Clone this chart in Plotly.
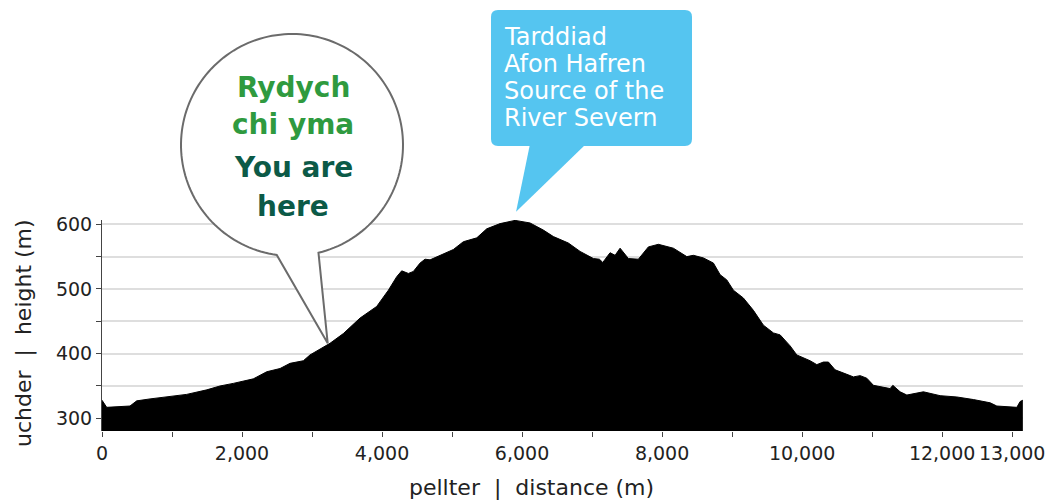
import numpy as np
import plotly.graph_objects as go

# ---------------- data ----------------
distance_m = [0, 67, 400, 496, 686, 924, 1210, 1496, 1686, 1876, 2161, 2353, 2543, 2686,
              2876, 2971, 3114, 3257, 3447, 3686, 3924, 4090, 4210, 4281, 4376, 4447, 4543,
              4614, 4686, 4829, 5019, 5161, 5353, 5496, 5686, 5900, 6114, 6304, 6447, 6661,
              6829, 7019, 7104, 7153, 7257, 7329, 7400, 7519, 7661, 7804, 7947, 8161, 8353,
              8447, 8590, 8733, 8829, 8924, 9019, 9161, 9304, 9447, 9590, 9686, 9829, 9924,
              10019, 10114, 10210, 10304, 10376, 10471, 10639, 10733, 10829, 10924, 11019,
              11161, 11257, 11296, 11400, 11496, 11733, 11971, 12210, 12447, 12686, 12781,
              13067, 13114, 13153]
elevation_m = [328, 317, 319, 327, 330, 333, 337, 344, 350, 354, 361, 372, 377, 385,
               389, 398, 407, 416, 431, 455, 473, 498, 519, 528, 524, 527, 540,
               546, 545, 552, 561, 573, 579, 593, 601, 606, 602, 591, 581, 571,
               558, 547, 546, 541, 556, 552, 563, 547, 546, 565, 569, 563, 550,
               552, 548, 540, 522, 514, 498, 486, 467, 444, 432, 429, 412, 398,
               394, 389, 383, 387, 387, 375, 368, 364, 366, 362, 351,
               348, 346, 351, 341, 336, 341, 335, 333, 329, 324, 319,
               317, 326, 328]

x_tick_values = list(range(0, 13001, 1000))
x_tick_labels = ["0", "", "2,000", "", "4,000", "", "6,000", "", "8,000", "",
                 "10,000", "", "12,000", "13,000"]
y_tick_values = [300, 350, 400, 450, 500, 550, 600]
y_tick_labels = ["300", "", "400", "", "500", "", "600"]

x_range = [0, 13155]
y_range = [280.4, 606.6]

you_are_here = (3224, 416)          # distance, height of the "you are here" point
bubble_lines_cy = ["Rydych", "chi yma"]
bubble_lines_en = ["You are", "here"]
source_lines = ["Tarddiad", "Afon Hafren", "Source of the", "River Severn"]

x_title = "pellter\u00a0\u00a0|\u00a0\u00a0distance (m)"
y_title = "uchder\u00a0\u00a0|\u00a0\u00a0height (m)"

# ---------------- layout geometry ----------------
FW, FH = 1048, 500
ML, MR, MT, MB = 102, 25, 220, 69
PW, PH = FW - ML - MR, FH - MT - MB

def fx(xp):
    return (xp - ML) / PW

def fy(yp):
    return (FH - MB - yp) / PH

def data_to_px(d, h):
    xp = ML + (d - x_range[0]) / (x_range[1] - x_range[0]) * PW
    yp = FH - MB - (h - y_range[0]) / (y_range[1] - y_range[0]) * PH
    return xp, yp

def path_from_px(points, close=True):
    s = "M " + " L ".join(f"{fx(x):.5f},{fy(y):.5f}" for x, y in points)
    return s + (" Z" if close else "")

fig = go.Figure()
fig.add_trace(go.Scatter(
    x=distance_m, y=elevation_m, mode="lines",
    line=dict(color="black", width=1),
    fill="tozeroy", fillcolor="black", hoverinfo="skip", showlegend=False,
))

shapes = []

# ---- "you are here" speech bubble (circle + tail) ----
cx, cy, r = 292, 145, 111
tip_x, tip_y = data_to_px(*you_are_here)
a_start = np.deg2rad(76.2)
a_end = np.deg2rad(97.9 - 360)
angles = np.linspace(a_start, a_end, 160)
pts = [(cx + r * np.cos(a), cy + r * np.sin(a)) for a in angles]
pts.append((tip_x, tip_y))
shapes.append(dict(type="path", xref="paper", yref="paper",
                   path=path_from_px(pts), fillcolor="white",
                   line=dict(color="#6b6b6b", width=2), layer="above"))

# ---- blue callout for the source of the Severn ----
BLUE = "#55c5f0"
bx0, bx1, by0, by1, rad = 491, 692, 10, 146, 7
def P(x, y):
    return f"{fx(x):.5f},{fy(y):.5f}"
rect_path = (f"M {P(bx0 + rad, by0)} L {P(bx1 - rad, by0)} Q {P(bx1, by0)} {P(bx1, by0 + rad)} "
             f"L {P(bx1, by1 - rad)} Q {P(bx1, by1)} {P(bx1 - rad, by1)} "
             f"L {P(bx0 + rad, by1)} Q {P(bx0, by1)} {P(bx0, by1 - rad)} "
             f"L {P(bx0, by0 + rad)} Q {P(bx0, by0)} {P(bx0 + rad, by0)} Z")
shapes.append(dict(type="path", xref="paper", yref="paper", path=rect_path,
                   fillcolor=BLUE, line=dict(width=0), layer="above"))
summit_i = int(np.argmax(elevation_m))
sx, _ = data_to_px(distance_m[summit_i], elevation_m[summit_i])
tail = [(530, by1 - 2), (586, by1 - 2), (sx + 1, 211.7)]
shapes.append(dict(type="path", xref="paper", yref="paper", path=path_from_px(tail),
                   fillcolor=BLUE, line=dict(width=0), layer="above"))

annotations = []
GREEN = "#2f9a3f"
DARK_GREEN = "#0c5a47"
for i, t in enumerate(bubble_lines_cy + bubble_lines_en):
    col = GREEN if i < 2 else DARK_GREEN
    ycen = [85, 123, 166, 205][i]
    annotations.append(dict(text=f"<b>{t}</b>", x=fx(293), y=fy(ycen + 2), xref="paper", yref="paper",
                            xanchor="center", yanchor="middle", showarrow=False,
                            font=dict(family="DejaVu Sans", size=28, color=col)))
for i, t in enumerate(source_lines):
    ycen = 35 + i * 27
    annotations.append(dict(text=t, x=fx(502), y=fy(ycen + 2), xref="paper", yref="paper",
                            xanchor="left", yanchor="middle", showarrow=False,
                            font=dict(family="DejaVu Sans", size=24, color="white")))

annotations.append(dict(text=x_title, x=fx(531), y=fy(488), xref="paper", yref="paper",
                        xanchor="center", yanchor="middle", showarrow=False,
                        font=dict(family="DejaVu Sans", size=22, color="#222")))
annotations.append(dict(text=y_title, x=fx(24), y=fy(333), xref="paper", yref="paper",
                        xanchor="center", yanchor="middle", showarrow=False, textangle=-90,
                        font=dict(family="DejaVu Sans", size=22, color="#222")))

fig.update_layout(
    width=FW, height=FH,
    margin=dict(l=ML, r=MR, t=MT, b=MB, pad=0, autoexpand=False),
    paper_bgcolor="white", plot_bgcolor="white",
    font=dict(family="DejaVu Sans", color="#222"),
    showlegend=False,
    shapes=shapes, annotations=annotations,
    xaxis=dict(range=x_range, tickmode="array", tickvals=x_tick_values, ticktext=x_tick_labels,
               ticks="outside", ticklen=5, tickcolor="#444", tickwidth=1, tickangle=0,
               automargin=False,
               showgrid=False, zeroline=False, showline=False,
               tickfont=dict(family="DejaVu Sans", size=19, color="#222")),
    yaxis=dict(range=y_range, tickmode="array", tickvals=y_tick_values, ticktext=y_tick_labels,
               ticks="outside", ticklen=5, tickcolor="#444", tickwidth=1, automargin=False,
               showgrid=True, gridcolor="#dedede", gridwidth=2, zeroline=False,
               showline=True, linecolor="#444", linewidth=1,
               tickfont=dict(family="DejaVu Sans", size=19, color="#222")),
)

fig.write_html("out.html", config={"displayModeBar": False},
               post_script="document.body.style.margin='0';document.body.style.overflow='hidden';")
